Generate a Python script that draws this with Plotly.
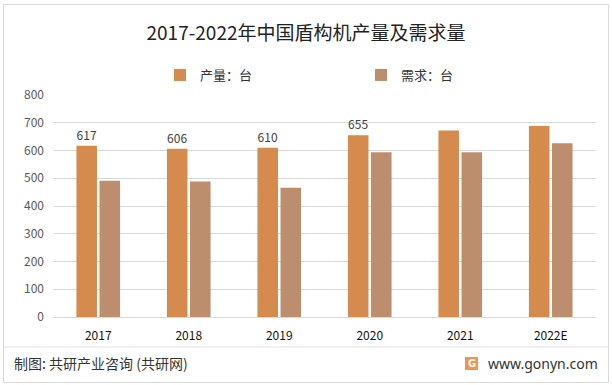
import plotly.graph_objects as go

years = ["2017", "2018", "2019", "2020", "2021", "2022E"]
production = [617, 606, 610, 655, 672, 688]
demand = [491, 488, 466, 594, 594, 626]
prod_labels = ["617", "606", "610", "655", "", ""]

W, H = 612, 385
L, R, T, B = 53, 16, 95, 68
pw, ph = W - L - R, H - T - B

def px_x(x):
    return (x - L) / pw

def px_y(y):
    return (H - B - y) / ph

fig = go.Figure()
fig.add_trace(go.Bar(
    x=years, y=production, name="产量：台",
    marker=dict(color="#D48B4D", line=dict(width=0)),
    text=prod_labels, textposition="outside", cliponaxis=False,
    textfont=dict(size=12, color="#404040", family="Noto Sans CJK SC"),
))
fig.add_trace(go.Bar(
    x=years, y=demand, name="需求：台",
    marker=dict(color="#BC8E6D", line=dict(width=0)),
))

shapes = [
    dict(type="rect", xref="paper", yref="paper",
         x0=px_x(3.5), x1=px_x(608.5), y0=px_y(382.5), y1=px_y(4.5),
         line=dict(color="#D9D9D9", width=1), fillcolor="rgba(0,0,0,0)", layer="below"),
    dict(type="line", xref="paper", yref="paper",
         x0=px_x(4), x1=px_x(608), y0=px_y(347), y1=px_y(347),
         line=dict(color="#E3E3E3", width=1)),
    dict(type="rect", xref="paper", yref="paper",
         x0=px_x(465), x1=px_x(478), y0=px_y(370), y1=px_y(357),
         line=dict(width=0), fillcolor="#F2944A"),
]

annotations = [
    dict(text="制图: 共研产业咨询 (共研网)", xref="paper", yref="paper",
         x=px_x(12), y=px_y(363), xanchor="left", yanchor="middle", showarrow=False,
         font=dict(size=14, color="#333333", family="Noto Sans CJK SC")),
    dict(text="www.gonyn.com", xref="paper", yref="paper",
         x=px_x(486), y=px_y(363), xanchor="left", yanchor="middle", showarrow=False,
         font=dict(size=14, color="#333333", family="Noto Sans, DejaVu Sans")),
    dict(text="<b>G</b>", xref="paper", yref="paper",
         x=px_x(471.5), y=px_y(363.5), xanchor="center", yanchor="middle", showarrow=False,
         font=dict(size=10, color="#FFFFFF", family="DejaVu Sans")),
]

fig.update_layout(
    width=W, height=H,
    margin=dict(l=L, r=R, t=T, b=B, autoexpand=False),
    paper_bgcolor="white", plot_bgcolor="white",
    title=dict(text="2017-2022年中国盾构机产量及需求量", x=0.5, xanchor="center",
               y=1 - 33 / H, yanchor="middle",
               font=dict(size=19, color="#222222", family="Noto Sans CJK SC")),
    barmode="group", bargap=0.49, bargroupgap=0.11,
    showlegend=True,
    legend=dict(orientation="h", x=px_x(160), y=px_y(75), xanchor="left", yanchor="middle",
                entrywidth=156, entrywidthmode="pixels",
                font=dict(size=13, color="#333333", family="Noto Sans CJK SC"),
                bgcolor="rgba(0,0,0,0)"),
    xaxis=dict(showgrid=False, showline=True, linecolor="#D9D9D9", linewidth=1,
               ticks="", ticklabelstandoff=8,
               tickfont=dict(size=12, color="#111111", family="Noto Sans CJK SC")),
    yaxis=dict(range=[0, 800], dtick=100, tick0=0, showgrid=True, gridcolor="#D9D9D9",
               gridwidth=1, zeroline=False, showline=False, ticks="", ticklabelstandoff=8,
               tickfont=dict(size=12, color="#595959", family="Noto Sans CJK SC")),
    shapes=shapes, annotations=annotations,
)

fig.write_html("out.html", config={"displayModeBar": False},
               post_script="document.body.style.margin='0';document.body.style.padding='0';")
